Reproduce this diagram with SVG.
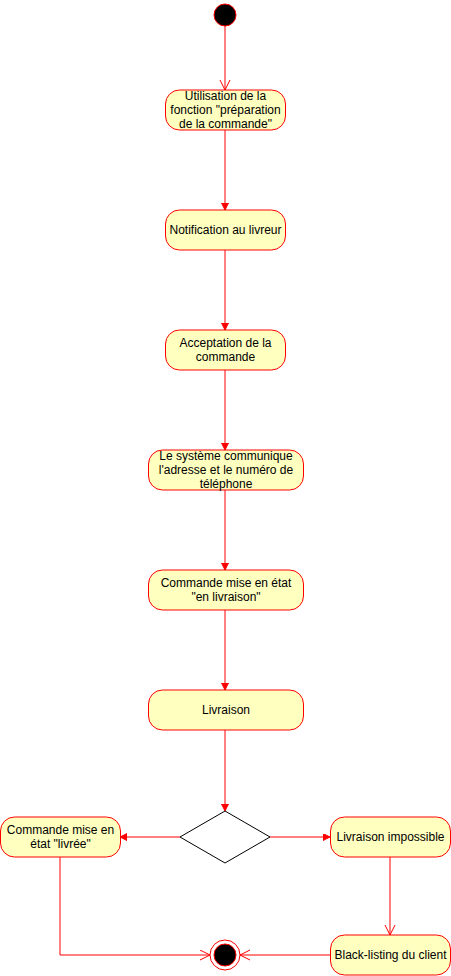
<svg xmlns="http://www.w3.org/2000/svg" width="451" height="976" viewBox="0 0 451 976">
<style>
.node rect{fill:#FFFFC0;stroke:#FF0000;stroke-width:1}
text{font-family:"Liberation Sans",Arial,sans-serif;font-size:12px;fill:#000;text-anchor:middle}
.edge{stroke:#FF0000;stroke-width:1;fill:none}
</style>
<defs>
<marker id="block" markerUnits="userSpaceOnUse" markerWidth="8" markerHeight="8" refX="7" refY="3.5" orient="auto">
<path d="M0,0 L7,3.5 L0,7 Z" fill="#FF0000" stroke="#FF0000" stroke-width="1"/>
</marker>
<marker id="open" markerUnits="userSpaceOnUse" markerWidth="12" markerHeight="12" refX="10.5" refY="5.5" orient="auto">
<path d="M0.5,0.5 L10.5,5.5 L0.5,10.5" fill="none" stroke="#FF0000" stroke-width="1"/>
</marker>
</defs>
<rect width="451" height="976" fill="#FFFFFF"/>
<g id="connectors">
<path class="edge" d="M225,26 L225,90" marker-end="url(#open)"/>
<path class="edge" d="M225,130 L225,210" marker-end="url(#block)"/>
<path class="edge" d="M225,250 L225,330" marker-end="url(#block)"/>
<path class="edge" d="M225,370 L225,450" marker-end="url(#block)"/>
<path class="edge" d="M225,490 L225,570" marker-end="url(#block)"/>
<path class="edge" d="M225,610 L225,690" marker-end="url(#block)"/>
<path class="edge" d="M225,730 L225,811" marker-end="url(#block)"/>
<path class="edge" d="M180,837 L120,837" marker-end="url(#block)"/>
<path class="edge" d="M270,837 L330,837" marker-end="url(#block)"/>
<path class="edge" d="M390,857 L390,935" marker-end="url(#open)"/>
<path class="edge" d="M60,857 L60,955 L210,955" marker-end="url(#open)"/>
<path class="edge" d="M330,955 L240,955" marker-end="url(#open)"/>
</g>
<g id="start">
<circle cx="225" cy="15" r="11" fill="#000000" stroke="#FF0000" stroke-width="1"/>
</g>
<g id="n1" class="node">
<rect x="165.5" y="90" width="120" height="40" rx="14" ry="14"/>
<text x="225.5" y="100">Utilisation de la</text>
<text x="225.5" y="114">fonction "préparation</text>
<text x="225.5" y="128">de la commande"</text>
</g>
<g id="n2" class="node">
<rect x="165.5" y="210" width="120" height="40" rx="14" ry="14"/>
<text x="225.5" y="234">Notification au livreur</text>
</g>
<g id="n3" class="node">
<rect x="165.5" y="330" width="120" height="40" rx="14" ry="14"/>
<text x="225.5" y="347">Acceptation de la</text>
<text x="225.5" y="361">commande</text>
</g>
<g id="n4" class="node">
<rect x="148.5" y="450" width="155" height="40" rx="14" ry="14"/>
<text x="226" y="460">Le système communique</text>
<text x="226" y="474">l'adresse et le numéro de</text>
<text x="226" y="488">téléphone</text>
</g>
<g id="n5" class="node">
<rect x="148.5" y="570" width="155" height="40" rx="14" ry="14"/>
<text x="226" y="587">Commande mise en état</text>
<text x="226" y="601">"en livraison"</text>
</g>
<g id="n6" class="node">
<rect x="148.5" y="690" width="155" height="40" rx="14" ry="14"/>
<text x="226" y="714">Livraison</text>
</g>
<g id="decision">
<path d="M225,811 L270,837 L225,863 L180,837 Z" fill="#FFFFFF" stroke="#000000" stroke-width="1"/>
</g>
<g id="n7" class="node">
<rect x="0.5" y="817" width="120" height="40" rx="14" ry="14"/>
<text x="60.5" y="834">Commande mise en</text>
<text x="60.5" y="848">état "livrée"</text>
</g>
<g id="n8" class="node">
<rect x="330.5" y="817" width="120" height="40" rx="14" ry="14"/>
<text x="390.5" y="841">Livraison impossible</text>
</g>
<g id="n9" class="node">
<rect x="330.5" y="935" width="120" height="40" rx="14" ry="14"/>
<text x="390.5" y="959">Black-listing du client</text>
</g>
<g id="end">
<circle cx="225" cy="955" r="15" fill="#FFFFFF" stroke="#FF0000" stroke-width="1"/>
<circle cx="225" cy="955" r="11" fill="#000000" stroke="#FF0000" stroke-width="1"/>
</g>
</svg>
